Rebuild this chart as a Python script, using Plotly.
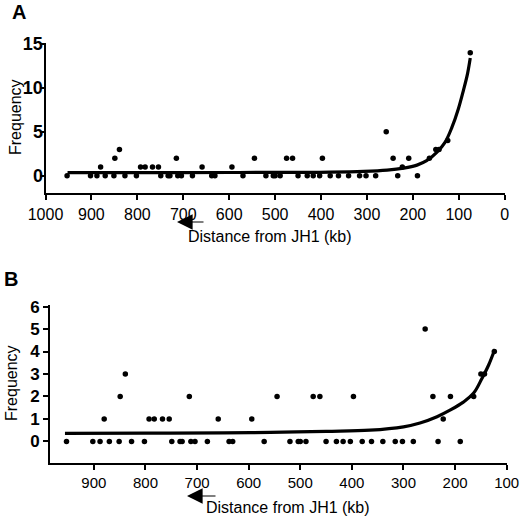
import plotly.graph_objects as go

# ========================
# Data
# ========================
# breakpoint sites: distance from JH1 (kb) and how often each was hit
DIST_KB = [953, 902, 888, 880, 870, 851, 849, 839, 827, 802,
           793, 783, 767, 754, 749, 733, 729, 715, 712, 704,
           680, 659, 638, 631, 594, 570, 545, 520, 504, 500,
           489, 475, 462, 450, 430, 417, 403, 397, 380, 362,
           340, 316, 302, 281, 258, 243, 233, 223, 209, 190,
           164, 150, 143, 124, 75]
FREQ = [0, 0, 0, 1, 0, 0, 2, 3, 0, 0,
        1, 1, 1, 1, 0, 0, 0, 2, 0, 0,
        0, 1, 0, 0, 1, 0, 2, 0, 0, 0,
        0, 2, 2, 0, 0, 0, 0, 2, 0, 0,
        0, 0, 0, 0, 5, 2, 0, 1, 2, 0,
        2, 3, 3, 4, 14]

# fitted curve, panel A (all sites)
FIT_A_KB = [952, 800, 600, 450, 380, 307, 256, 220, 191, 170, 148, 130, 115, 101, 90, 81, 75]
FIT_A_FREQ = [0.35, 0.36, 0.37, 0.38, 0.40, 0.49, 0.64, 0.87, 1.21, 1.71, 2.66, 3.8, 5.5, 7.6, 9.7, 11.6, 13.4]

# fitted curve, panel B (sites beyond 100 kb)
FIT_B_KB = [956, 800, 650, 558, 450, 365, 300, 268, 235, 209, 184, 164, 148, 135, 123]
FIT_B_FREQ = [0.36, 0.37, 0.38, 0.40, 0.45, 0.50, 0.65, 0.82, 1.10, 1.40, 1.75, 2.15, 2.80, 3.40, 4.10]

TICKS_A_X = [1000, 900, 800, 700, 600, 500, 400, 300, 200, 100, 0]
TICKS_A_Y = [0, 5, 10, 15]
TICKS_B_X = [900, 800, 700, 600, 500, 400, 300, 200, 100]
TICKS_B_Y = [0, 1, 2, 3, 4, 5, 6]

W, H = 520, 521
FONT = "Liberation Sans, Arial, sans-serif"


def px_x(v):
    return v / W


def px_y(v):
    return 1 - v / H


def axis_style(**kw):
    base = dict(showline=True, linecolor="black", linewidth=2,
                ticks="outside", ticklen=5, tickwidth=2, tickcolor="black",
                showgrid=False, zeroline=False, automargin=False,
                tickfont=dict(family=FONT, size=16, color="black"))
    base.update(kw)
    return base


# ========================
# Traces
# ========================
fig = go.Figure()

fig.add_trace(go.Scatter(x=FIT_A_KB, y=FIT_A_FREQ, mode="lines",
                         line=dict(color="black", width=3.2, shape="spline"),
                         xaxis="x", yaxis="y", hoverinfo="skip"))
fig.add_trace(go.Scatter(x=DIST_KB, y=FREQ, mode="markers",
                         marker=dict(color="black", size=5.5),
                         xaxis="x", yaxis="y"))

far_kb = [d for d in DIST_KB if d >= 100]
far_freq = [f for d, f in zip(DIST_KB, FREQ) if d >= 100]

fig.add_trace(go.Scatter(x=FIT_B_KB, y=FIT_B_FREQ, mode="lines",
                         line=dict(color="black", width=3.2, shape="spline"),
                         xaxis="x2", yaxis="y2", hoverinfo="skip"))
fig.add_trace(go.Scatter(x=far_kb, y=far_freq, mode="markers",
                         marker=dict(color="black", size=5.5),
                         xaxis="x2", yaxis="y2"))

# ========================
# Layout
# ========================
fig.update_layout(
    width=W, height=H,
    margin=dict(l=0, r=0, t=0, b=0),
    paper_bgcolor="white", plot_bgcolor="white",
    showlegend=False,
    xaxis=axis_style(domain=[px_x(45.5), px_x(504.7)], range=[1000, 0],
                     tickvals=TICKS_A_X, anchor="y"),
    yaxis=axis_style(domain=[px_y(193.3), px_y(43.3)], range=[-2, 15.08],
                     tickvals=TICKS_A_Y, anchor="x", ticklen=4,
                     ticklabelstandoff=-7,
                     tickfont=dict(family=FONT, size=18, color="black", weight="bold")),
    xaxis2=axis_style(domain=[px_x(50), px_x(506.7)], range=[985, 100],
                      tickvals=TICKS_B_X, anchor="y2",
                      tickfont=dict(family=FONT, size=15, color="black")),
    yaxis2=axis_style(domain=[px_y(463), px_y(305)], range=[-0.96, 6.07],
                      tickvals=TICKS_B_Y, anchor="x2",
                      tickfont=dict(family=FONT, size=17, color="black", weight="bold")),
)


def label(text, x, y, size=16, angle=0, bold=False):
    fig.add_annotation(text=text, xref="paper", yref="paper",
                       x=px_x(x), y=px_y(y), xanchor="center", yanchor="middle",
                       showarrow=False, textangle=angle,
                       font=dict(family=FONT, size=size, color="black",
                                 weight="bold" if bold else "normal"))


def back_arrow(x_head, y, length):
    fig.add_annotation(text="", xref="paper", yref="paper",
                       x=px_x(x_head), y=px_y(y), ax=length, ay=0,
                       showarrow=True, arrowhead=2, arrowsize=2.6,
                       arrowwidth=1.2, arrowcolor="black")


label("A", 18.5, 12, size=20, bold=True)
label("B", 10.5, 279, size=20, bold=True)
label("Frequency", 15, 117, angle=-90)
label("Frequency", 11, 383, angle=-90)
label("Distance from JH1 (kb)", 270, 237)
label("Distance from JH1 (kb)", 288, 507)
back_arrow(177, 222, 28)
back_arrow(187, 496, 30)

# drop the default 8px body margin so the figure sits at the window corner
fig.write_html("out.html", config={"displayModeBar": False},
               post_script="document.body.style.margin = '0';")
